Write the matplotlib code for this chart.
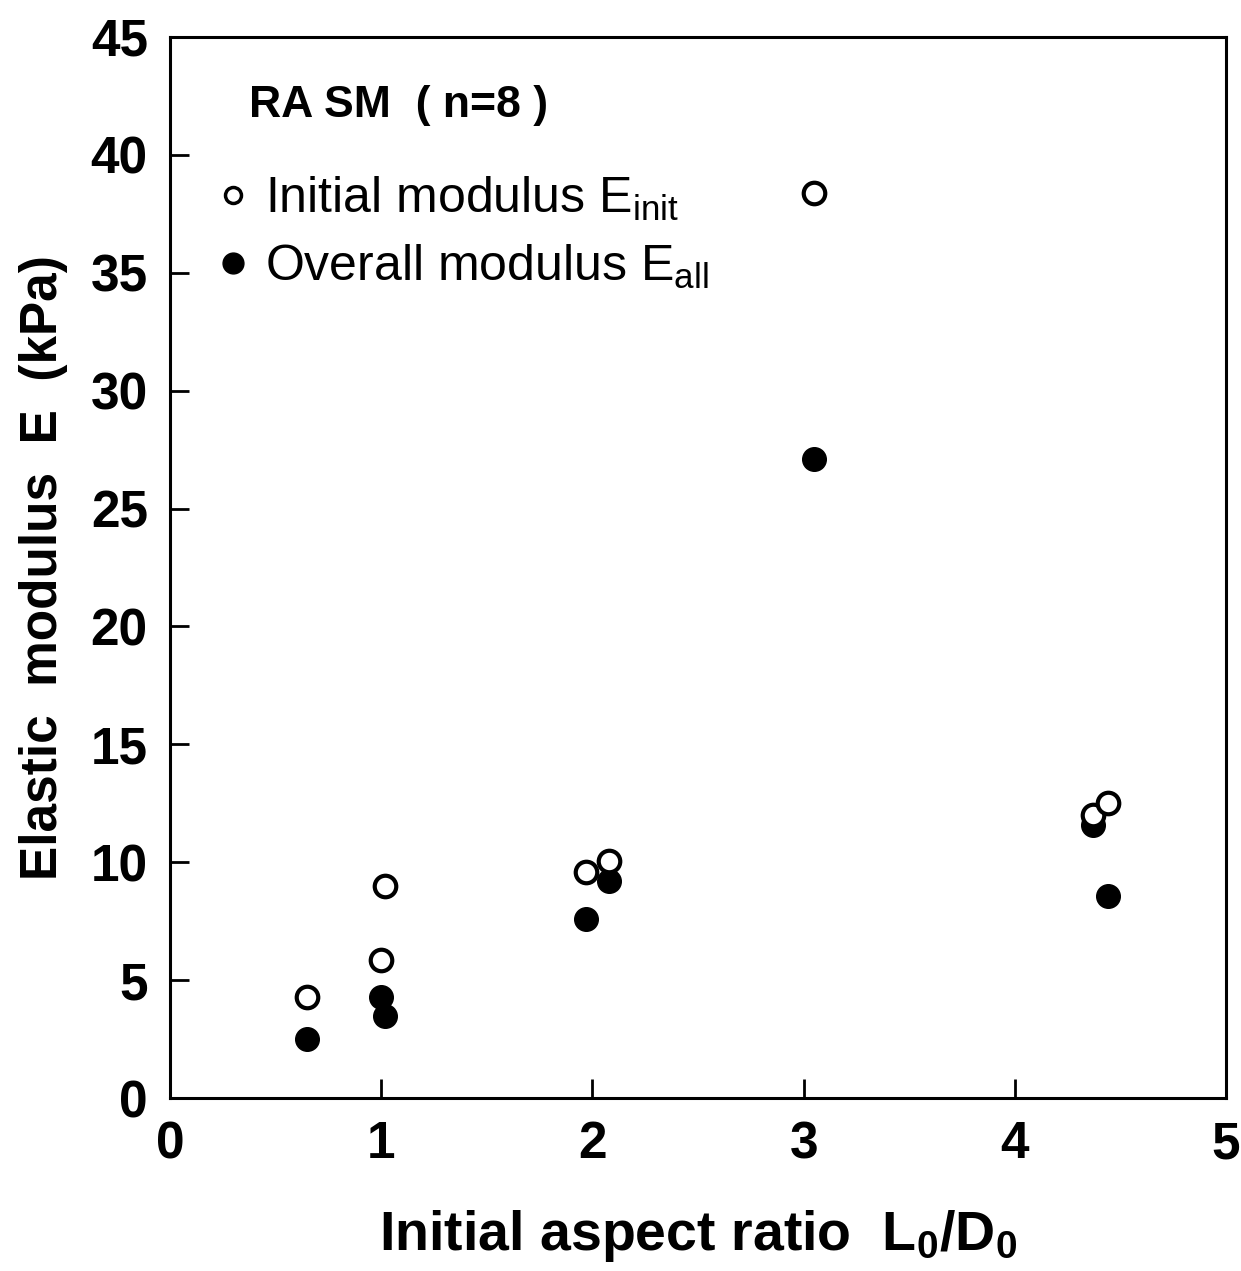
import numpy as np
import matplotlib
matplotlib.use('Agg')
import matplotlib.pyplot as plt
from matplotlib.lines import Line2D

plt.rcParams['font.family'] = ['Liberation Sans', 'DejaVu Sans']
plt.rcParams['mathtext.fontset'] = 'custom'
plt.rcParams['mathtext.rm'] = 'Liberation Sans'
plt.rcParams['mathtext.it'] = 'Liberation Sans'
plt.rcParams['mathtext.bf'] = 'Liberation Sans:bold'

# aspect ratio L0/D0 and moduli (kPa)
ratio = [0.65, 1.00, 1.02, 1.97, 2.08, 3.05, 4.37, 4.44]
e_init = [4.27, 5.86, 9.0, 9.58, 10.07, 38.4, 12.0, 12.5]
e_all = [2.49, 4.27, 3.49, 7.6, 9.22, 27.1, 11.6, 8.55]

xticks = [0, 1, 2, 3, 4, 5]
yticks = [0, 5, 10, 15, 20, 25, 30, 35, 40, 45]

fig = plt.figure(figsize=(12.41, 12.71), dpi=100)
ax = fig.add_axes([0.137, 0.136, 0.851, 0.835])

ax.plot(ratio, e_all, 'o', ls='none', color='black', ms=17, zorder=3)
ax.plot(ratio, e_init, 'o', ls='none', mfc='white', mec='black', ms=15.5, mew=3, zorder=4)

ax.set_xlim(0, 5)
ax.set_ylim(0, 45)
ax.set_xticks(xticks)
ax.set_yticks(yticks)
ax.tick_params(direction='in', length=14, width=2, top=False, right=False)
for lab in ax.get_xticklabels() + ax.get_yticklabels():
    lab.set_fontsize(37)
    lab.set_fontweight('bold')
ax.tick_params(axis='x', pad=16)
ax.tick_params(axis='y', pad=16)
for s in ax.spines.values():
    s.set_linewidth(2.2)

ax.set_xlabel('Initial aspect ratio  L$_{\\mathbf{0}}$/D$_{\\mathbf{0}}$',
              fontsize=40, fontweight='bold', labelpad=28)
ax.set_ylabel('Elastic  modulus  E  (kPa)', fontsize=37, fontweight='bold', labelpad=16)

ax.text(0.075, 0.935, 'RA SM  ( n=8 )', transform=ax.transAxes,
        fontsize=32, fontweight='bold', va='center', ha='left')

handles = [
    Line2D([], [], marker='o', ls='none', mfc='white', mec='black', ms=11.5, mew=2.5),
    Line2D([], [], marker='o', ls='none', color='black', ms=15),
]
labels = ['Initial modulus E$_{\\mathregular{init}}$', 'Overall modulus E$_{\\mathregular{all}}$']
ax.legend(handles, labels, loc='upper left', bbox_to_anchor=(0.045, 0.87),
          frameon=False, fontsize=36, handlelength=0.6, handletextpad=0.35,
          labelspacing=0.4, borderpad=0, borderaxespad=0)

fig.savefig('out.png', dpi=100)
